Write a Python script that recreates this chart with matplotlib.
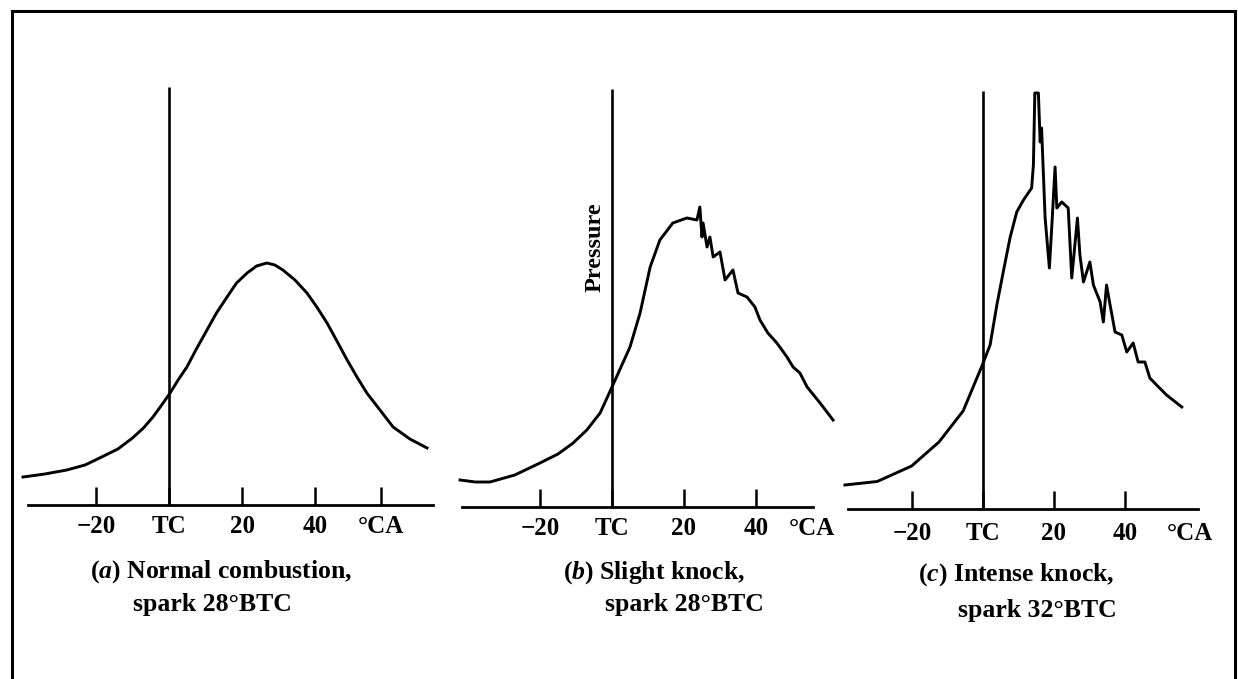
import numpy as np
import matplotlib
matplotlib.use("Agg")
import matplotlib.pyplot as plt
from matplotlib.lines import Line2D

plt.rcParams['font.family'] = ['Liberation Serif', 'DejaVu Serif']
plt.rcParams['mathtext.fontset'] = 'custom'
plt.rcParams['mathtext.it'] = 'Liberation Serif:italic:bold'
plt.rcParams['mathtext.rm'] = 'Liberation Serif:bold'

W, H = 1238, 679

# crank angle (deg, 0 = TC) and pressure (arbitrary units)
deg_a = [-40, -34, -28, -23, -19, -14, -10, -7, -4.4, -2, 0.3, 2.5, 4.9, 7.5, 10.4,
         13, 15.9, 18.5, 21.4, 24, 26.8, 29, 31.2, 34.5, 37.8, 40.5, 43.3, 46, 48.8,
         51.5, 54.2, 57.8, 61.4, 66, 70.7]
p_a = [28, 31, 35, 40, 47, 56, 67, 77, 88, 100, 112, 125, 138, 156, 175,
       192, 208, 222, 232, 239, 242, 240, 235, 225, 212, 198, 182, 164, 145,
       128, 112, 95, 78, 66, 57]

deg_b = [-42.2, -38, -33.9, -27, -20, -15, -10.8, -7, -3.3, 0, 2.5, 5, 7.8, 10.6,
         13.3, 16.9, 20.8, 23.6, 24.4, 25.0, 25.3, 26.4, 27.2, 28.1, 30.0, 31.4,
         33.6, 35.0, 37.5, 39.7, 41.1, 43.3, 45.8, 48.6, 50.3, 52.2, 54.2, 57.8, 61.4]
p_b = [27, 25, 25, 32, 44, 53, 64, 77, 94, 120, 140, 160, 194, 240,
       267, 284, 289, 287, 300, 270, 284, 260, 270, 250, 255, 227,
       237, 214, 210, 200, 187, 174, 164, 150, 140, 134, 120, 104, 87]

deg_c = [-38.9, -29.8, -20.1, -12.4, -5.6, -0.3, 2.0, 3.9, 5.7, 7.6, 9.5, 11.4,
         13.7, 14.2, 14.6, 15.6, 16.1, 16.5, 17.5, 18.7, 19.4, 20.3, 20.8, 22.2,
         24.0, 25.0, 26.6, 27.3, 28.3, 30.1, 31.1, 33.0, 33.9, 34.8, 35.8, 37.2,
         39.1, 40.5, 42.3, 43.7, 45.6, 47.0, 48.9, 51.7, 56.0]
p_c = [24, 27.5, 43, 67, 98, 143, 164, 204, 237, 271, 297, 309,
       321, 344, 416, 416, 367, 381, 291, 241, 284, 342, 301, 307,
       301, 231, 291, 254, 227, 247, 224, 207, 187, 224, 204, 177,
       174, 157, 166, 147, 147, 131, 124, 114, 102]

tick_pos = [-20, 0, 20, 40]
tick_txt = ['\u221220', 'TC', '20', '40']
tc_top = 418

panels = [
    # x of TC (px), px per deg, baseline y (px), xlim, axis span, °CA pos, has tick
    dict(x0=169, s=3.65, yb=505, xlim=(-42, 76), span=(-38.6, 72.2), ca=58.0, ca_tick=True,
         deg=deg_a, p=p_a),
    dict(x0=612, s=3.60, yb=507, xlim=(-44, 66), span=(-41.7, 55.8), ca=55.6, ca_tick=False,
         deg=deg_b, p=p_b),
    dict(x0=983, s=3.55, yb=509, xlim=(-42, 66), span=(-38.0, 60.6), ca=58.3, ca_tick=False,
         deg=deg_c, p=p_c),
]

captions = [
    ('($\\mathit{a}$) Normal combustion,', 'spark 28°BTC', 90, 133, 572, 605),
    ('($\\mathit{b}$) Slight knock,', 'spark 28°BTC', 563, 605, 573, 605),
    ('($\\mathit{c}$) Intense knock,', 'spark 32°BTC', 918, 958, 575, 610),
]

fig = plt.figure(figsize=(W / 100, H / 100), dpi=100)

ymax = 430
for i, pn in enumerate(panels):
    d0, d1 = pn['xlim']
    left = (pn['x0'] + d0 * pn['s']) / W
    width = (d1 - d0) * pn['s'] / W
    bottom = (H - pn['yb']) / H
    ax = fig.add_axes([left, bottom, width, ymax / H])
    ax.set_facecolor('none')
    ax.set_xlim(d0, d1)
    ax.set_ylim(0, ymax)
    for side in ['top', 'right', 'left']:
        ax.spines[side].set_visible(False)
    ax.spines['bottom'].set_linewidth(2.0)
    ax.spines['bottom'].set_bounds(*pn['span'])
    ax.set_yticks([])
    ax.set_xticks(tick_pos + [pn['ca']])
    ax.set_xticklabels(tick_txt + ['°CA'])
    ax.tick_params(axis='x', direction='in', length=13, width=1.8,
                   pad=9 if i == 2 else 7, labelsize=18)
    for lab in ax.get_xticklabels():
        lab.set_fontweight('bold')
    if not pn['ca_tick']:
        ax.xaxis.get_major_ticks()[-1].tick1line.set_visible(False)
    ax.vlines(0, 0, tc_top, color='black', lw=1.9)
    ax.plot(pn['deg'], pn['p'], color='black', lw=2.1, solid_joinstyle='round')

    if i == 1:
        ax.text(-4.6, 260, 'Pressure', rotation=90, ha='center', va='center',
                fontsize=17.5, fontweight='bold')

for l1, l2, x1, x2, y1, y2 in captions:
    fig.text(x1 / W, 1 - y1 / H, l1, ha='left', va='center', fontsize=18.5, fontweight='bold')
    fig.text(x2 / W, 1 - y2 / H, l2, ha='left', va='center', fontsize=18.5, fontweight='bold')

# outer frame of the figure
fx0, fx1, fy0 = 12 / W, 1235 / W, 1 - 11 / H
for xs, ys in [([fx0, fx0], [0, fy0]), ([fx0, fx1], [fy0, fy0]), ([fx1, fx1], [fy0, 0])]:
    fig.add_artist(Line2D(xs, ys, transform=fig.transFigure, color='black', lw=2.2))

fig.savefig('out.png', dpi=100)
